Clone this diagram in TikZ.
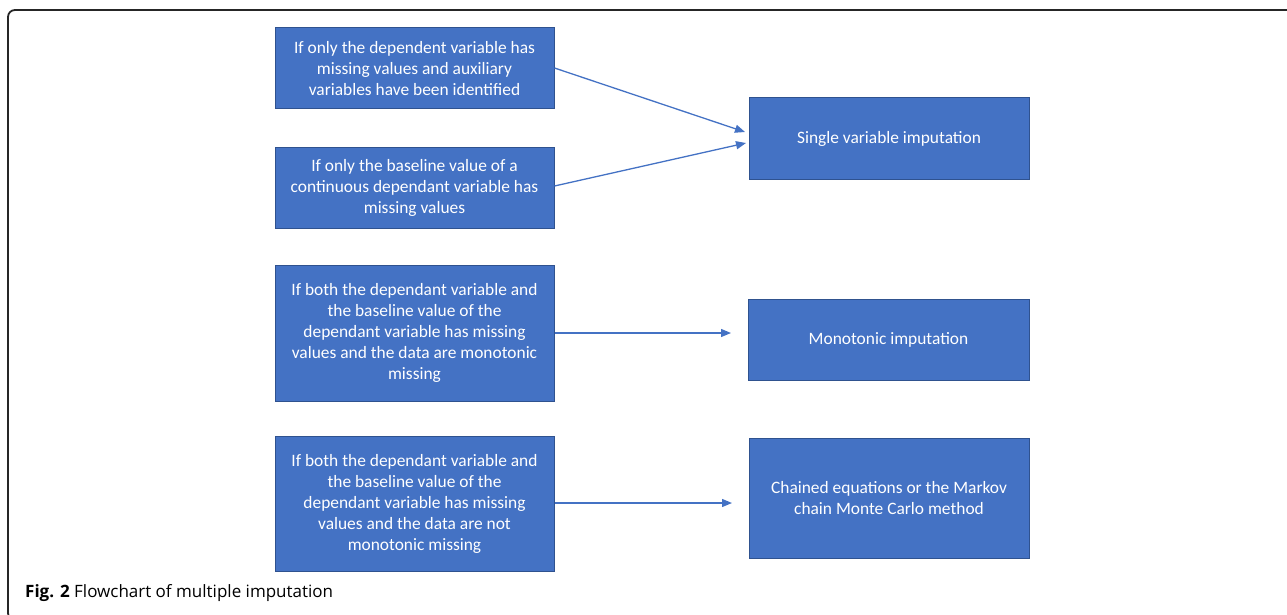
\documentclass[tikz,border=0pt]{standalone}
\usepackage{fontspec}
\setmainfont{Carlito}
\newfontfamily\capfont{Open Sans}
\usetikzlibrary{arrows.meta}
\definecolor{boxblue}{HTML}{4472C4}
\definecolor{boxedge}{HTML}{2F528F}
\begin{document}
\begin{tikzpicture}[x=1pt,y=-1pt,
  box/.style={draw=boxedge,line width=1pt,fill=boxblue,text=white,inner sep=0pt,
    align=center,font=\fontsize{17.4}{21}\selectfont},
  conn/.style={draw=boxblue,line width=1.3pt,-{Triangle[length=10pt,width=8pt]}}]
\useasboundingbox (0,0) rectangle (1287,615);
\draw[line width=1.8pt,color=black!85,rounded corners=7pt] (8,10) rectangle (1300,620);
\node[box,minimum width=279pt,minimum height=81pt] (b1) at (414.5,68.5)
  {If only the dependent variable has\\missing values and auxiliary\\variables have been identified};
\node[box,minimum width=279pt,minimum height=81pt] (b2) at (414.5,187.5)
  {If only the baseline value of a\\continuous dependant variable has\\missing values};
\node[box,minimum width=279pt,minimum height=136pt] (b3) at (414.5,333)
  {If both the dependant variable and\\the baseline value of the\\dependant variable has missing\\values and the data are monotonic\\missing};
\node[box,minimum width=279pt,minimum height=135pt] (b4) at (414.5,503.5)
  {If both the dependant variable and\\the baseline value of the\\dependant variable has missing\\values and the data are not\\monotonic missing};
\node[box,minimum width=280pt,minimum height=81pt] (r1) at (889,138.5) {Single variable imputation};
\node[box,minimum width=281pt,minimum height=81pt] (r2) at (888.5,339.5) {Monotonic imputation};
\node[box,minimum width=280pt,minimum height=120pt] (r3) at (889,498)
  {Chained equations or the Markov\\chain Monte Carlo method};
\coordinate (t1) at (745,132);
\coordinate (t2) at (746,143);
\coordinate (t3) at (731,333);
\coordinate (t4) at (732,503);
\draw[conn] (b1.east |- 0,68) -- (t1);
\draw[conn] (b2.east |- 0,186) -- (t2);
\draw[conn] (b3.east |- 0,333) -- (t3);
\draw[conn] (b4.east |- 0,503) -- (t4);
\node[anchor=base west,inner sep=0pt,font=\capfont\fontsize{17}{20}\selectfont] (cap) at (25,597)
  {\textbf{Fig. 2} Flowchart of multiple imputation};
\end{tikzpicture}
\end{document}
